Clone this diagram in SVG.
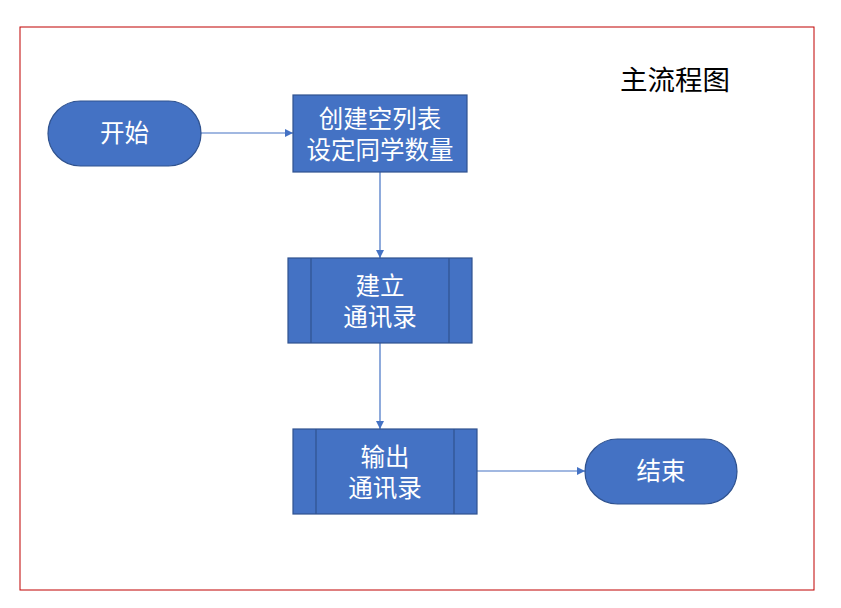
<svg xmlns="http://www.w3.org/2000/svg" width="841" height="608" viewBox="0 0 841 608">
<style>
.shape{fill:#4472C4;stroke:#2F528F;stroke-width:1.2}
.inner{stroke:#2F528F;stroke-width:1.2}
.lbl{font-family:"Noto Sans CJK SC","Noto Sans",sans-serif;font-size:24.5px;fill:#fff;text-anchor:middle;dominant-baseline:central}
.conn{stroke:#4472C4;stroke-width:1.2;fill:none;marker-end:url(#ah)}
</style>
<defs>
<marker id="ah" viewBox="0 0 10 10" refX="10" refY="5" markerWidth="8" markerHeight="8" markerUnits="userSpaceOnUse" orient="auto">
<path d="M0,0 L10,5 L0,10 z" fill="#4472C4"/>
</marker>
</defs>
<rect x="0" y="0" width="841" height="608" fill="#fff"/>
<rect x="20" y="27" width="794" height="563" fill="none" stroke="#C00000" stroke-width="1"/>
<text x="675" y="78" font-family="'Noto Sans CJK SC',sans-serif" font-size="27.5" fill="#000" text-anchor="middle" dominant-baseline="central">主流程图</text>
<g id="connectors">
<line class="conn" x1="201" y1="133" x2="293" y2="133"/>
<line class="conn" x1="380" y1="172" x2="380" y2="258"/>
<line class="conn" x1="380" y1="343" x2="380" y2="429"/>
<line class="conn" x1="477" y1="471" x2="585" y2="471"/>
</g>
<g id="start">
<rect class="shape" x="48" y="101" width="153" height="65" rx="32.5"/>
<text class="lbl" x="124.5" y="131">开始</text>
</g>
<g id="create">
<rect class="shape" x="293" y="95" width="174" height="77"/>
<text class="lbl" x="380" y="117">创建空列表</text>
<text class="lbl" x="380" y="148">设定同学数量</text>
</g>
<g id="build">
<rect class="shape" x="288" y="258" width="184" height="85"/>
<line class="inner" x1="311" y1="258" x2="311" y2="343"/>
<line class="inner" x1="449" y1="258" x2="449" y2="343"/>
<text class="lbl" x="380" y="284">建立</text>
<text class="lbl" x="380" y="315">通讯录</text>
</g>
<g id="output">
<rect class="shape" x="293" y="429" width="184" height="85"/>
<line class="inner" x1="316" y1="429" x2="316" y2="514"/>
<line class="inner" x1="454" y1="429" x2="454" y2="514"/>
<text class="lbl" x="385" y="455">输出</text>
<text class="lbl" x="385" y="486">通讯录</text>
</g>
<g id="end">
<rect class="shape" x="585" y="439" width="152" height="65" rx="32.5"/>
<text class="lbl" x="661" y="469">结束</text>
</g>
</svg>
